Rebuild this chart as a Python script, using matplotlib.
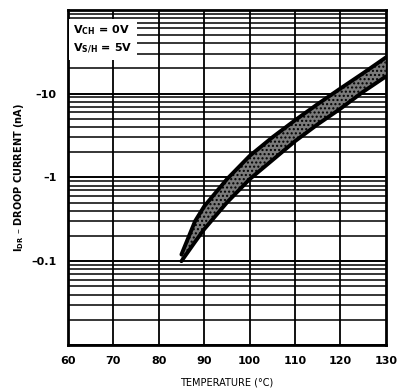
import matplotlib
matplotlib.use("Agg")
import matplotlib.pyplot as plt
import numpy as np

# droop current band (nA, plotted as magnitude)
temp = [85, 88, 90, 95, 100, 105, 110, 115, 120, 125, 130]
upper = [0.12, 0.30, 0.45, 0.95, 1.8, 3.0, 4.8, 7.5, 11.5, 17.5, 27.0]
lower = [0.10, 0.17, 0.24, 0.50, 0.95, 1.6, 2.7, 4.3, 6.6, 10.5, 16.0]

x_ticks = [60, 70, 80, 90, 100, 110, 120, 130]
y_ticks = [10, 1, 0.1]
y_labels = ["\u201310", "\u20131", "\u20130.1"]

fig = plt.figure(figsize=(4.04, 3.92), dpi=100)
ax = fig.add_axes([0.168, 0.12, 0.787, 0.855])
ax.set_yscale("log")
ax.set_xlim(60, 130)
ax.set_ylim(0.01, 100)

# heavy datasheet-style grid
for t in x_ticks[1:-1]:
    ax.axvline(t, color="black", lw=1.3, zorder=1)
for dec in [0.01, 0.1, 1, 10]:
    for m in range(1, 10):
        ax.axhline(dec * m, color="black", lw=1.4 if m == 1 else 1.1, zorder=1)

ax.fill_between(temp, lower, upper, facecolor="#7a7a7a", edgecolor="black",
                hatch="....", lw=0, zorder=3)
ax.plot(temp, upper, color="black", lw=2.8, zorder=4, solid_capstyle="round")
ax.plot(temp, lower, color="black", lw=2.8, zorder=4, solid_capstyle="round")

ax.text(61.2, 70, "$\\mathbf{V_{CH}}$ = 0V\n$\\mathbf{V_{S/H}}$ = 5V", fontsize=8,
        fontweight="bold", va="top", ha="left", linespacing=1.5,
        bbox=dict(facecolor="white", edgecolor="none", pad=3), zorder=5)

ax.set_xticks(x_ticks)
ax.set_xticklabels([str(t) for t in x_ticks], fontsize=8, fontweight="bold")
ax.set_yticks(y_ticks)
ax.set_yticklabels(y_labels, fontsize=8, fontweight="bold")
ax.minorticks_off()
ax.tick_params(length=0, pad=8)
for s in ax.spines.values():
    s.set_linewidth(2)

ax.set_xlabel("TEMPERATURE (\u00b0C)", fontsize=7, labelpad=8)
ax.set_ylabel("$\\mathbf{I_{DR}}$ \u2013 DROOP CURRENT (nA)", fontsize=7,
              fontweight="bold", labelpad=4)

fig.savefig("out.png", dpi=100)
